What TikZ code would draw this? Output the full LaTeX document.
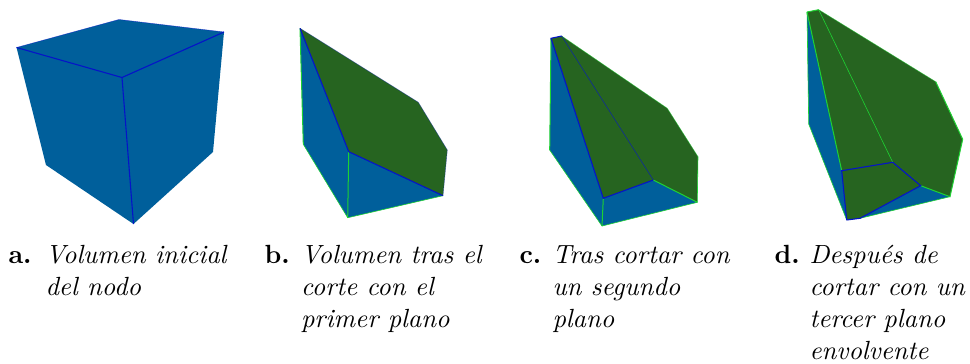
\documentclass[tikz,border=0pt]{standalone}
\usepackage{xcolor}
\definecolor{fblue}{RGB}{0,95,155}
\definecolor{fgreen}{RGB}{38,100,32}
\definecolor{eblue}{RGB}{5,20,200}
\definecolor{egreen}{RGB}{30,210,50}
\tikzset{
  x=1bp,y=-1bp,
  bface/.style={fill=fblue,draw=none},
  gface/.style={fill=fgreen,draw=none},
  be/.style={draw=eblue,line width=1.1bp},
  bethin/.style={draw=eblue!70!fgreen,line width=0.6bp},
  ge/.style={draw=egreen,line width=1bp},
  gethin/.style={draw=egreen,line width=0.6bp},
  gefaint/.style={draw=egreen,line width=0.5bp,opacity=.6},
  captext/.style={anchor=north west,inner sep=0pt,align=left,scale=2.64,transform shape,font=\fontsize{10}{12.15}\selectfont\itshape},
  lab/.style={anchor=north west,inner sep=0pt,scale=2.64,transform shape,font=\fontsize{10}{12.15}\selectfont\bfseries}
}
\begin{document}
\begin{tikzpicture}
\useasboundingbox (0,0) rectangle (970,363);
% a
\coordinate (a1) at (16.5,47.5); \coordinate (a2) at (119,19.5); \coordinate (a3) at (224,32);
\coordinate (a4) at (122,77.5); \coordinate (a5) at (213,152); \coordinate (a6) at (133.5,224); \coordinate (a7) at (46,165);
\fill[bface] (a1)--(a2)--(a3)--(a5)--(a6)--(a7)--cycle;
\draw[be] (a1)--(a4)--(a3) (a4)--(a6);
\draw[be,line width=0.5bp,opacity=.6] (a1)--(a2)--(a3);
% b
\coordinate (b1) at (300,28.3); \coordinate (b2) at (418.3,102.3); \coordinate (b3) at (447.3,150);
\coordinate (b4) at (443,195.7); \coordinate (b5) at (347.7,217.7); \coordinate (b6) at (303.3,144.3); \coordinate (b7) at (348.7,151.7);
\fill[bface] (b1)--(b7)--(b4)--(b5)--(b6)--cycle;
\fill[gface] (b1)--(b2)--(b3)--(b4)--(b7)--cycle;
\draw[ge] (b1)--(b6) (b7)--(b5);
\draw[gethin] (b6)--(b5)--(b4);
\draw[be] (b1)--(b7)--(b4);
\draw[bethin,opacity=.5] (b1)--(b2)--(b3)--(b4);
% c
\coordinate (c1) at (551,38.3); \coordinate (c2) at (561.7,36); \coordinate (c3) at (667.3,108.3);
\coordinate (c4) at (698,156.7); \coordinate (c5) at (697.3,202.3); \coordinate (c6) at (602,226);
\coordinate (c7) at (549.7,150); \coordinate (c8) at (603.3,198.3); \coordinate (c9) at (653.3,180);
\fill[bface] (c1)--(c8)--(c9)--(c5)--(c6)--(c7)--cycle;
\fill[gface] (c1)--(c2)--(c3)--(c4)--(c5)--(c9)--(c8)--cycle;
\draw[ge] (c1)--(c7) (c8)--(c6) (c9)--(c5);
\draw[gethin] (c7)--(c6)--(c5)--(c4);
\draw[gefaint] (c4)--(c3)--(c2);
\draw[be] (c2)--(c1)--(c8)--(c9);
\draw[bethin] (c2)--(c9);
% d
\coordinate (d1) at (807,12); \coordinate (d2) at (818.7,9.7); \coordinate (d3) at (935.7,81.7);
\coordinate (d4) at (962.7,139.3); \coordinate (d5) at (950,196.7); \coordinate (d6) at (860,218.3);
\coordinate (d7) at (846.7,220); \coordinate (d8) at (808.7,124); \coordinate (d9) at (841.7,170.7);
\coordinate (d10) at (892.7,162.3); \coordinate (d11) at (920.7,185.7);
\fill[bface] (d1)--(d9)--(d7)--(d8)--cycle;
\fill[bface] (d11)--(d5)--(d6)--cycle;
\fill[gface] (d1)--(d2)--(d3)--(d4)--(d5)--(d11)--(d6)--(d7)--(d9)--cycle;
\draw[ge] (d1)--(d9) (d3)--(d4)--(d5)--(d11) (d1)--(d2);
\draw[gefaint] (d2)--(d3);
\draw[gethin] (d2)--(d10) (d8)--(d7) (d1)--(d8) (d6)--(d5);
\draw[be] (d7)--(d9)--(d10)--(d11)--(d6)--(d7);
% captions
\node[lab] (la) at (8,240.5) {\strut a.};
\node[captext] (ca) at (45,240.5) {\strut Volumen inicial\\del nodo};
\node[lab] (lb) at (264,240.5) {\strut b.};
\node[captext] (cb) at (300.5,240.5) {\strut Volumen tras el\\corte con el\\primer plano};
\node[lab] (lc) at (519,240.5) {\strut c.};
\node[captext] (cc) at (552,240.5) {\strut Tras cortar con\\un segundo\\plano};
\node[lab] (ld) at (774,240.5) {\strut d.};
\node[captext] (cd) at (809,240.5) {\strut Después de\\cortar con un\\tercer plano\\envolvente};
\end{tikzpicture}
\end{document}
